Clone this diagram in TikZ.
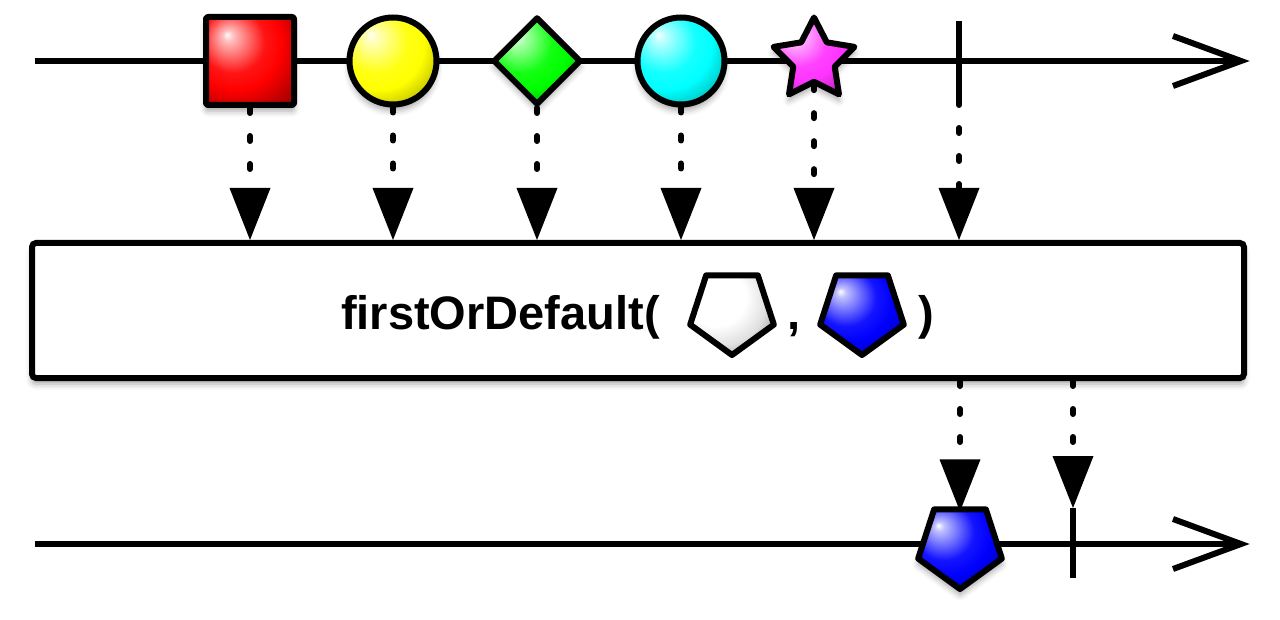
\documentclass[tikz,border=0pt]{standalone}
\usepackage{fontspec}
\setmainfont{Liberation Sans}
\usetikzlibrary{shapes.geometric,arrows.meta,shadows.blur}
\newcommand\defshade[2]{\pgfdeclareradialshading{sh#1}{\pgfpoint{-13bp}{15bp}}{color(0bp)=(white); color(3bp)=(#2!25!white); color(18bp)=(#2!92!white); color(26bp)=(#2); color(36bp)=(#2!75!black); color(48bp)=(#2!50!black); color(70bp)=(#2!40!black)}}
\defshade{red}{red}
\defshade{yel}{yellow}
\defshade{grn}{green}
\defshade{cyn}{cyan}
\defshade{mag}{magenta!80!white}
\defshade{blu}{blue}
\pgfdeclareradialshading{shwht}{\pgfpoint{-13bp}{15bp}}{color(0bp)=(white); color(18bp)=(white); color(28bp)=(white!88!black); color(36bp)=(white!65!black); color(50bp)=(white!50!black); color(70bp)=(white!45!black)}
\begin{document}
\begin{tikzpicture}[x=1pt,y=-1pt,
  tl/.style={line width=6pt},
  shape line/.style={draw, line width=6pt, line join=round, inner sep=0pt},
  item/.style={shape line,
    blur shadow={shadow xshift=0pt, shadow yshift=-6pt, shadow blur radius=6pt, shadow opacity=35}},
  pentagon/.style={regular polygon, regular polygon sides=5, shape border rotate=180, minimum size=88pt},
  flow/.style={line width=6pt, dash pattern=on 5pt off 23pt, line cap=round,
    -{Triangle[length=52pt,width=41pt,line width=0pt]}},
  lbl/.style={font=\fontsize{47}{56}\selectfont\bfseries, inner sep=0pt, anchor=base}
]
\useasboundingbox (0,0) rectangle (1280,620);
% timelines
\coordinate (t0) at (35,61);
\coordinate (t1) at (1241,61);
\coordinate (b0) at (35,544);
\coordinate (b1) at (1241,544);
\draw[tl] (t0) -- (t1);
\draw[tl] ([shift={(-68,-25)}]t1) -- (t1) -- ([shift={(-68,25)}]t1);
\draw[tl] (b0) -- (b1);
\draw[tl] ([shift={(-68,-25)}]b1) -- (b1) -- ([shift={(-68,25)}]b1);
% top items
\node[item, rectangle, rounded corners=2pt, minimum size=88pt, shading=shred] (sq) at (250,61) {};
\node[item, circle, minimum size=87pt, shading=shyel] (yc) at (393,61) {};
\node[item, diamond, minimum size=88pt, shading=shgrn] (gd) at (537,61) {};
\node[item, circle, minimum size=87pt, shading=shcyn] (cc) at (681,61) {};
\node[item, star, star points=5, star point ratio=1.95, minimum size=85pt, shading=shmag] (st) at (814,60) {};
\coordinate (tkt) at (959,21);
\coordinate (tkb) at (959,100);
\draw[tl] (tkt) -- (tkb);
% operator box
\node[draw, line width=6pt, rounded corners=4pt, fill=white, minimum width=1212pt, minimum height=135pt,
  blur shadow={shadow xshift=0pt, shadow yshift=-6pt, shadow blur radius=6pt, shadow opacity=35}] (op) at (638,310.5) {};
\node[lbl, anchor=base west] (fn) at (341,330) {firstOrDefault(};
\node[shape line, pentagon, shading=shwht] (p1) at (732,311) {};
\node[lbl] (cm) at (794,330) {,};
\node[shape line, pentagon, shading=shblu] (p2) at (862,311) {};
\node[lbl] (cp) at (926,330) {)};
% bottom items
\node[item, pentagon, shading=shblu] (bp) at (960,545) {};
\coordinate (bkt) at (1073,508);
\coordinate (bkb) at (1073,578);
\draw[tl] (bkt) -- (bkb);
% connectors
\draw[flow] (sq.south) -- (sq.south |- op.north);
\draw[flow] (yc.south) -- (yc.south |- op.north);
\draw[flow] (gd.south) -- (gd.south |- op.north);
\draw[flow] (cc.south) -- (cc.south |- op.north);
\draw[flow] (st.south) -- (st.south |- op.north);
\draw[flow] (tkb) -- (tkb |- op.north);
\draw[flow, shorten >=-5pt] (bp.north |- op.south) -- (bp.north);
\draw[flow] (bkt |- op.south) -- (bkt);
\end{tikzpicture}
\end{document}
